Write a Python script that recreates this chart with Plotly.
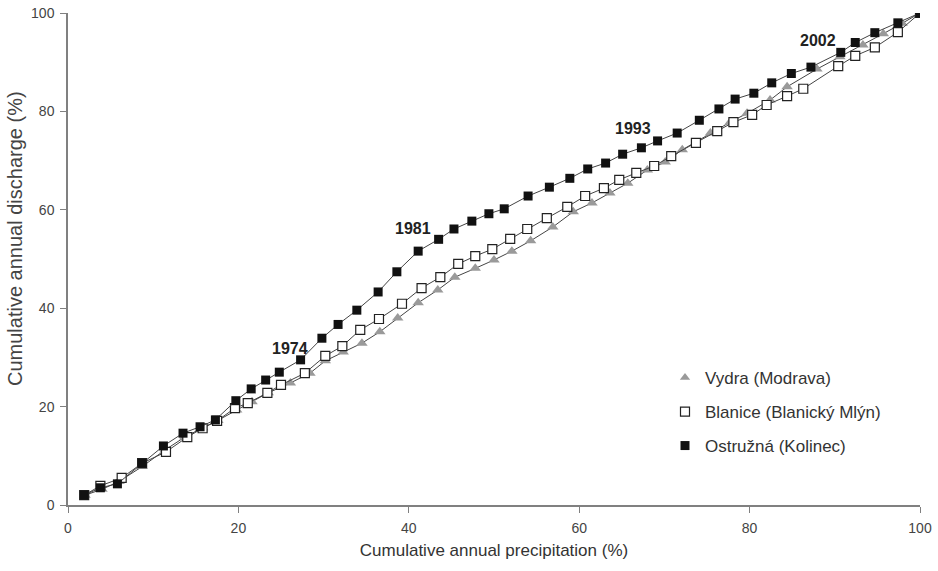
import plotly.graph_objects as go

# Ostružná (Kolinec)
ost_x = [1.9, 3.8, 5.8, 8.7, 11.2, 13.5, 15.5, 17.3, 19.7, 21.5, 23.2, 24.8, 27.3, 29.8, 31.7, 33.9,
         36.4, 38.6, 41.1, 43.5, 45.3, 47.4, 49.4, 51.2, 54.0, 56.5, 58.9, 61.0, 63.1, 65.1, 67.3,
         69.2, 71.5, 74.1, 76.4, 78.3, 80.5, 82.6, 84.9, 87.2, 90.7, 92.4, 94.7, 97.4, 100.0]
ost_y = [2.0, 3.5, 4.3, 8.5, 12.0, 14.6, 15.9, 17.3, 21.2, 23.6, 25.4, 27.0, 29.5, 33.9, 36.7, 39.6,
         43.3, 47.4, 51.6, 54.0, 56.1, 57.7, 59.2, 60.2, 62.8, 64.6, 66.4, 68.3, 69.5, 71.3, 72.6,
         74.0, 75.6, 78.2, 80.5, 82.5, 83.7, 85.8, 87.7, 89.0, 92.0, 94.0, 96.0, 98.0, 100.0]

# Blanice (Blanický Mlýn)
bla_x = [1.9, 3.8, 6.3, 8.7, 11.5, 14.0, 15.8, 17.5, 19.6, 21.1, 23.4, 25.0, 27.8, 30.2, 32.2, 34.3,
         36.5, 39.2, 41.5, 43.7, 45.8, 47.8, 49.8, 51.9, 53.9, 56.2, 58.6, 60.7, 62.9, 64.7, 66.7,
         68.8, 70.8, 73.7, 76.2, 78.1, 80.3, 82.0, 84.4, 86.3, 90.4, 92.4, 94.7, 97.4, 100.0]
bla_y = [2.0, 3.9, 5.5, 8.5, 10.8, 13.8, 15.6, 17.1, 19.7, 20.7, 22.8, 24.4, 26.8, 30.3, 32.3, 35.6,
         37.8, 40.9, 44.1, 46.3, 49.0, 50.6, 52.0, 54.1, 56.1, 58.3, 60.6, 62.8, 64.4, 66.1, 67.5,
         68.9, 70.9, 73.6, 76.0, 77.8, 79.3, 81.3, 83.1, 84.6, 89.2, 91.3, 93.0, 96.1, 100.0]

# Vydra (Modrava)
vyd_x = [2.0, 4.0, 6.0, 8.7, 11.4, 13.7, 15.8, 17.6, 19.8, 21.6, 23.5, 26.1, 28.4, 30.2, 32.3, 34.5,
         36.6, 38.7, 41.1, 43.4, 45.4, 47.8, 50.0, 52.1, 54.3, 56.9, 59.3, 61.5, 63.6, 65.7, 68.0,
         70.1, 72.1, 75.4, 77.7, 79.7, 82.4, 84.4, 87.9, 90.6, 93.3, 95.7, 97.9, 100.0]
vyd_y = [2.0, 3.2, 4.8, 7.8, 11.2, 13.8, 15.7, 17.2, 19.3, 21.0, 22.8, 24.8, 26.8, 29.3, 31.1, 32.9,
         35.2, 38.0, 41.1, 43.7, 46.3, 48.1, 49.8, 51.6, 53.7, 56.5, 59.6, 61.4, 63.4, 65.4, 68.1,
         69.7, 72.2, 75.6, 77.8, 79.6, 82.3, 85.0, 88.6, 91.1, 93.5, 95.8, 97.9, 100.0]

year_labels = ["1974", "1981", "1993", "2002"]
year_x = [26.1, 40.5, 66.3, 88.0]
year_y = [31.9, 56.3, 76.6, 94.5]

series_names = ["Vydra (Modrava)", "Blanice (Blanický Mlýn)", "Ostružná (Kolinec)"]
x_ticks = [0, 20, 40, 60, 80, 100]
y_ticks = [0, 20, 40, 60, 80, 100]

FONT = "Liberation Sans, Arial"

fig = go.Figure()

line_style = dict(color="#444444", width=1)

fig.add_trace(go.Scatter(x=vyd_x, y=vyd_y, mode="lines+markers", line=line_style,
                         marker=dict(symbol="triangle-up", size=10, color="#9a9a9a",
                                     line=dict(width=0)),
                         showlegend=False))
fig.add_trace(go.Scatter(x=bla_x, y=bla_y, mode="lines+markers", line=line_style,
                         marker=dict(symbol="square", size=9, color="white",
                                     line=dict(color="#222222", width=1.2)),
                         showlegend=False))
fig.add_trace(go.Scatter(x=ost_x, y=ost_y, mode="lines+markers", line=line_style,
                         marker=dict(symbol="square", size=9, color="#111111",
                                     line=dict(width=0)),
                         showlegend=False))

# legend entries (markers only)
leg_markers = [
    dict(symbol="triangle-up", size=9, color="#9a9a9a", line=dict(width=0)),
    dict(symbol="square", size=9, color="white", line=dict(color="#222222", width=1.2)),
    dict(symbol="square", size=9, color="#111111", line=dict(width=0)),
]
legend_ids = ["legend", "legend2", "legend3"]
for name, mk, lid in zip(series_names, leg_markers, legend_ids):
    fig.add_trace(go.Scatter(x=[None], y=[None], mode="markers", name=name,
                             marker=mk, showlegend=True, legend=lid))

for t, xx, yy in zip(year_labels, year_x, year_y):
    fig.add_annotation(x=xx, y=yy, text="<b>" + t + "</b>", showarrow=False,
                       font=dict(size=16, color="#222222", family=FONT))

W, H = 938, 571
ml, mr, mt, mb = 68, 18, 13, 66
pw = W - ml - mr
ph = H - mt - mb

def lx(px):
    return (px - ml) / pw

def ly(py):
    return (H - mb - py) / ph

# y-axis title placed as rotated text
fig.add_annotation(x=lx(15), y=ly(239), xref="paper", yref="paper",
                   text="Cumulative annual discharge (%)", textangle=-90, showarrow=False,
                   xanchor="center", yanchor="middle",
                   font=dict(size=20, color="#444444", family=FONT))

leg_common = dict(font=dict(size=17, color="#333333", family=FONT),
                  bgcolor="rgba(0,0,0,0)", xanchor="left", yanchor="middle")
fig.update_layout(
    legend=dict(x=lx(665), y=ly(378), **leg_common),
    legend2=dict(x=lx(665), y=ly(412), **leg_common),
    legend3=dict(x=lx(665), y=ly(446), **leg_common),
)

axis_common = dict(showgrid=False, zeroline=False, showline=True, linecolor="#808080",
                   linewidth=1.5, ticks="outside", ticklen=6, tickcolor="#808080",
                   ticklabelstandoff=3, automargin=False,
                   tickfont=dict(size=14, color="#444444", family=FONT),
                   range=[0, 100])

fig.update_layout(
    width=W, height=H,
    margin=dict(l=ml, r=mr, t=mt, b=mb),
    plot_bgcolor="white", paper_bgcolor="white",
    xaxis=dict(**axis_common, tickvals=x_ticks,
               title=dict(text="Cumulative annual precipitation (%)",
                          font=dict(size=17, color="#333333", family=FONT),
                          standoff=10)),
    yaxis=dict(**axis_common, tickvals=y_ticks),
)

fig.write_html("out.html")
